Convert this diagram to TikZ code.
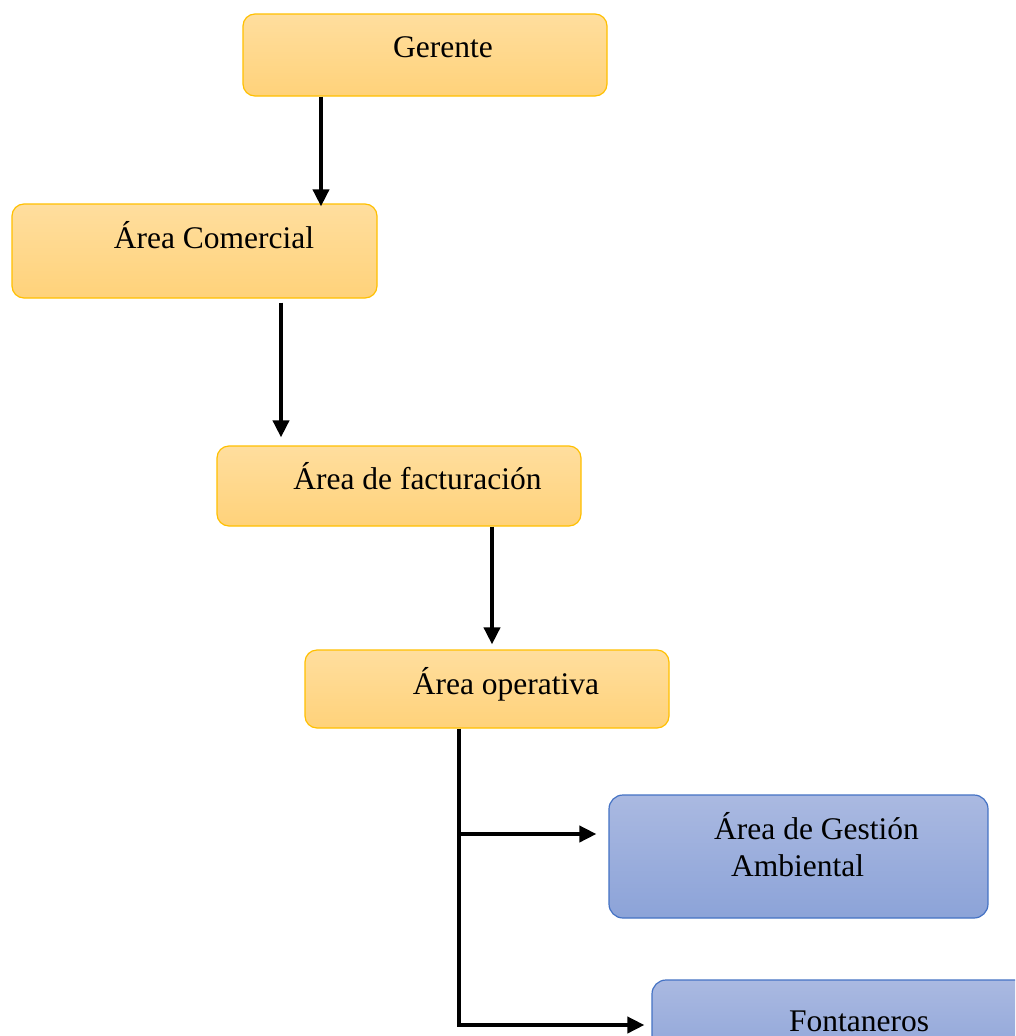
\documentclass[tikz,border=0pt]{standalone}
\usepackage{fontspec}
\setmainfont{Liberation Serif}
\usetikzlibrary{arrows.meta}
\definecolor{orTop}{HTML}{FFDE9E}
\definecolor{orBot}{HTML}{FFD27A}
\definecolor{orLine}{HTML}{FFC000}
\definecolor{blTop}{HTML}{AAB9E1}
\definecolor{blBot}{HTML}{8CA3D8}
\definecolor{blLine}{HTML}{4472C4}
\tikzset{
  obox/.style={rectangle, rounded corners=12pt, draw=orLine, line width=1.2pt,
    top color=orTop, bottom color=orBot, inner sep=0pt},
  bbox/.style={rectangle, rounded corners=14pt, draw=blLine, line width=1.2pt,
    top color=blTop, bottom color=blBot, inner sep=0pt},
  lbl/.style={anchor=base, inner sep=0pt, font=\fontsize{31.5}{37}\selectfont},
  arr/.style={line width=3.8pt, -{Triangle[length=17pt,width=16pt]}}
}
\begin{document}
\begin{tikzpicture}[x=1pt,y=-1pt]
\clip (0,0) rectangle (1015,1036);
\fill[white] (0,0) rectangle (1015,1036);
% boxes
\node[obox, minimum width=364pt, minimum height=82pt] (g) at (425,55) {};
\node[obox, minimum width=365pt, minimum height=94pt] (c) at (194.5,251) {};
\node[obox, minimum width=364pt, minimum height=80pt] (fa) at (399,486) {};
\node[obox, minimum width=364pt, minimum height=78pt] (o) at (487,689) {};
\node[bbox, minimum width=379pt, minimum height=123pt] (ga) at (798.5,856.5) {};
\node[bbox, minimum width=380pt, minimum height=90pt] (fo) at (842,1025) {};
% texts
\node[lbl] (gt) at (443,57) {Gerente};
\node[lbl] (ct) at (214,248) {Área Comercial};
\node[lbl] (fat) at (417.5,489) {Área de facturación};
\node[lbl] (ot) at (506,694) {Área operativa};
\node[lbl] (gat1) at (816.5,839) {Área de Gestión};
\node[lbl] (gat2) at (797.5,876) {Ambiental};
\node[lbl] (fot) at (859,1031) {Fontaneros};
% connectors
\draw[arr, shorten >=-3pt] ([xshift=-104pt]g.south) -- ([xshift=126.5pt]c.north);
\draw[arr, shorten <=4pt, shorten >=8pt] ([xshift=86.5pt]c.south) -- ([xshift=-118pt]fa.north);
\draw[arr, shorten >=5pt] ([xshift=93pt]fa.south) -- ([xshift=5pt]o.north);
\draw[arr, shorten >=7pt] ([xshift=-28pt]o.south) |- (fo.west);
\coordinate (b1) at (459,834);
\draw[arr, shorten >=12pt] ([xshift=-1.9pt]b1) -- (b1 -| ga.west);
\end{tikzpicture}
\end{document}
